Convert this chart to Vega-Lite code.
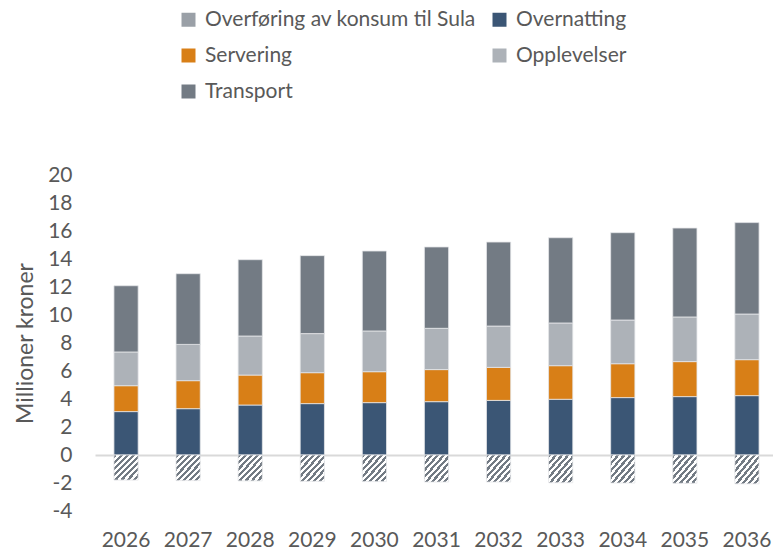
{
  "$schema": "https://vega.github.io/schema/vega-lite/v6.json",
  "autosize": {"type": "none"},
  "width": 683,
  "height": 336,
  "padding": {"left": 95, "top": 175, "right": 0, "bottom": 41},
  "background": "white",
  "config": {
    "view": {"stroke": null},
    "font": "Lato",
    "axis": {"labelColor": "#595959", "titleColor": "#595959", "domain": false, "ticks": false, "tickSize": 0, "labelFont": "Lato", "titleFont": "Lato"},
    "legend": {"labelFont": "Lato", "labelColor": "#595959"}
  },
  "data": {
    "values": [
      {"year": "2026", "category": "Overnatting", "value": 3.10},
      {"year": "2026", "category": "Servering", "value": 1.85},
      {"year": "2026", "category": "Opplevelser", "value": 2.41},
      {"year": "2026", "category": "Transport", "value": 4.73},
      {"year": "2026", "category": "Overføring av konsum til Sula", "value": -1.79},
      {"year": "2027", "category": "Overnatting", "value": 3.31},
      {"year": "2027", "category": "Servering", "value": 2.00},
      {"year": "2027", "category": "Opplevelser", "value": 2.59},
      {"year": "2027", "category": "Transport", "value": 5.05},
      {"year": "2027", "category": "Overføring av konsum til Sula", "value": -1.83},
      {"year": "2028", "category": "Overnatting", "value": 3.57},
      {"year": "2028", "category": "Servering", "value": 2.14},
      {"year": "2028", "category": "Opplevelser", "value": 2.79},
      {"year": "2028", "category": "Transport", "value": 5.45},
      {"year": "2028", "category": "Overføring av konsum til Sula", "value": -1.85},
      {"year": "2029", "category": "Overnatting", "value": 3.67},
      {"year": "2029", "category": "Servering", "value": 2.21},
      {"year": "2029", "category": "Opplevelser", "value": 2.79},
      {"year": "2029", "category": "Transport", "value": 5.57},
      {"year": "2029", "category": "Overføring av konsum til Sula", "value": -1.88},
      {"year": "2030", "category": "Overnatting", "value": 3.74},
      {"year": "2030", "category": "Servering", "value": 2.21},
      {"year": "2030", "category": "Opplevelser", "value": 2.91},
      {"year": "2030", "category": "Transport", "value": 5.71},
      {"year": "2030", "category": "Overføring av konsum til Sula", "value": -1.90},
      {"year": "2031", "category": "Overnatting", "value": 3.81},
      {"year": "2031", "category": "Servering", "value": 2.29},
      {"year": "2031", "category": "Opplevelser", "value": 2.95},
      {"year": "2031", "category": "Transport", "value": 5.81},
      {"year": "2031", "category": "Overføring av konsum til Sula", "value": -1.93},
      {"year": "2032", "category": "Overnatting", "value": 3.90},
      {"year": "2032", "category": "Servering", "value": 2.36},
      {"year": "2032", "category": "Opplevelser", "value": 2.95},
      {"year": "2032", "category": "Transport", "value": 6.00},
      {"year": "2032", "category": "Overføring av konsum til Sula", "value": -1.93},
      {"year": "2033", "category": "Overnatting", "value": 3.98},
      {"year": "2033", "category": "Servering", "value": 2.40},
      {"year": "2033", "category": "Opplevelser", "value": 3.05},
      {"year": "2033", "category": "Transport", "value": 6.09},
      {"year": "2033", "category": "Overføring av konsum til Sula", "value": -1.98},
      {"year": "2034", "category": "Overnatting", "value": 4.10},
      {"year": "2034", "category": "Servering", "value": 2.42},
      {"year": "2034", "category": "Opplevelser", "value": 3.12},
      {"year": "2034", "category": "Transport", "value": 6.24},
      {"year": "2034", "category": "Overføring av konsum til Sula", "value": -2.00},
      {"year": "2035", "category": "Overnatting", "value": 4.17},
      {"year": "2035", "category": "Servering", "value": 2.50},
      {"year": "2035", "category": "Opplevelser", "value": 3.19},
      {"year": "2035", "category": "Transport", "value": 6.35},
      {"year": "2035", "category": "Overføring av konsum til Sula", "value": -2.02},
      {"year": "2036", "category": "Overnatting", "value": 4.24},
      {"year": "2036", "category": "Servering", "value": 2.57},
      {"year": "2036", "category": "Opplevelser", "value": 3.26},
      {"year": "2036", "category": "Transport", "value": 6.53},
      {"year": "2036", "category": "Overføring av konsum til Sula", "value": -2.06}
    ]
  },
  "transform": [
    {"calculate": "datum.category === 'Overnatting' ? 0 : datum.category === 'Servering' ? 1 : datum.category === 'Opplevelser' ? 2 : datum.category === 'Transport' ? 3 : 4", "as": "stackOrder"}
  ],
  "mark": {"type": "bar", "stroke": "#e4e6e9", "strokeWidth": 0.8},
  "encoding": {
    "x": {
      "field": "year", "type": "ordinal",
      "scale": {"paddingInner": 0.61, "paddingOuter": 0.305},
      "axis": {"title": null, "labelAngle": 0, "labelFontSize": 21, "labelPadding": 18, "orient": "bottom", "grid": false}
    },
    "y": {
      "field": "value", "type": "quantitative", "stack": "zero",
      "scale": {"domain": [-4, 20], "nice": false, "zero": false},
      "axis": {
        "title": "Millioner kroner", "titleFontSize": 23, "titleFontWeight": "normal",
        "labelFontSize": 21, "labelPadding": 23,
        "values": [-4, -2, 0, 2, 4, 6, 8, 10, 12, 14, 16, 18, 20],
        "labelOverlap": false, "labelExpr": "'' + datum.value", "titlePadding": 10,
        "grid": true, "gridWidth": 2,
        "gridColor": {"condition": {"test": "datum.value === 0", "value": "#d9d9d9"}, "value": "transparent"}
      }
    },
    "order": {"field": "stackOrder", "type": "quantitative", "sort": "ascending"},
    "color": {
      "condition": {
        "test": "datum.category === 'Overføring av konsum til Sula'",
        "value": {"gradient": "linear", "x1": 0, "y1": 0, "x2": 1, "y2": 1, "stops": [
            {"offset": 0, "color": "#737b84"}, {"offset": 0.0625, "color": "#737b84"},
            {"offset": 0.0625, "color": "#ffffff"}, {"offset": 0.125, "color": "#ffffff"},
            {"offset": 0.125, "color": "#737b84"}, {"offset": 0.1875, "color": "#737b84"},
            {"offset": 0.1875, "color": "#ffffff"}, {"offset": 0.25, "color": "#ffffff"},
            {"offset": 0.25, "color": "#737b84"}, {"offset": 0.3125, "color": "#737b84"},
            {"offset": 0.3125, "color": "#ffffff"}, {"offset": 0.375, "color": "#ffffff"},
            {"offset": 0.375, "color": "#737b84"}, {"offset": 0.4375, "color": "#737b84"},
            {"offset": 0.4375, "color": "#ffffff"}, {"offset": 0.5, "color": "#ffffff"},
            {"offset": 0.5, "color": "#737b84"}, {"offset": 0.5625, "color": "#737b84"},
            {"offset": 0.5625, "color": "#ffffff"}, {"offset": 0.625, "color": "#ffffff"},
            {"offset": 0.625, "color": "#737b84"}, {"offset": 0.6875, "color": "#737b84"},
            {"offset": 0.6875, "color": "#ffffff"}, {"offset": 0.75, "color": "#ffffff"},
            {"offset": 0.75, "color": "#737b84"}, {"offset": 0.8125, "color": "#737b84"},
            {"offset": 0.8125, "color": "#ffffff"}, {"offset": 0.875, "color": "#ffffff"},
            {"offset": 0.875, "color": "#737b84"}, {"offset": 0.9375, "color": "#737b84"},
            {"offset": 0.9375, "color": "#ffffff"}, {"offset": 1, "color": "#ffffff"}
          ]}
      },
      "field": "category", "type": "nominal",
      "scale": {
        "domain": ["Overføring av konsum til Sula", "Overnatting", "Servering", "Opplevelser", "Transport"],
        "range": ["#9aa0a7", "#3b5675", "#d87f17", "#adb2b8", "#737b84"]
      },
      "legend": {
        "title": null, "orient": "none", "legendX": 83, "legendY": -166,
        "direction": "horizontal", "columns": 2, "columnPadding": 13, "rowPadding": 14,
        "symbolType": "square", "symbolSize": 196, "symbolStrokeWidth": 0,
        "labelFontSize": 21, "labelOffset": 6, "labelLimit": 400
      }
    }
  }
}
